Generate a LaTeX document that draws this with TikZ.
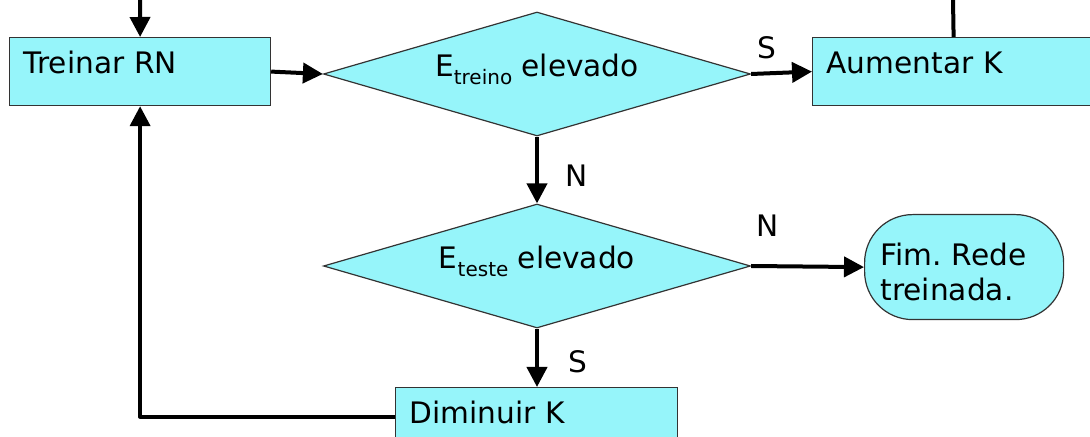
\documentclass[tikz,border=0pt]{standalone}
\usepackage{fontspec}
\setmainfont{DejaVu Sans}
\usetikzlibrary{arrows.meta,shapes.geometric}

\definecolor{boxcyan}{RGB}{150,245,250}
\newcommand{\sublow}[1]{\raisebox{-4pt}{\fontsize{10}{11}\selectfont #1}}
\frenchspacing

\begin{document}
\begin{tikzpicture}[%
        x = 0.5pt, y = -0.5pt,
        every node/.style = {font = \fontsize{14.8}{17.5}\selectfont},
        stepbox/.style = {draw = black!80, fill = boxcyan, line width = 0.6pt,
            rectangle, anchor = north west, inner xsep = 7pt, inner ysep = 0pt,
            text height = 18pt, text depth = 16pt, text width = 116.5pt, align = left},
        decision/.style = {diamond, draw = black!80, fill = boxcyan, line width = 0.6pt,
            aspect = 3.44, minimum width = 213.5pt, minimum height = 62pt,
            inner sep = 0pt, text height = 10pt, text depth = 7pt},
        endbox/.style = {draw = black!80, fill = boxcyan, line width = 0.6pt,
            rectangle, rounded corners = 24pt, anchor = north west,
            inner xsep = 8pt, inner ysep = 0pt, minimum height = 52.5pt,
            text width = 83.5pt, text height = 16pt, align = left},
        wire/.style = {line width = 2pt, line join = round},
        flow/.style = {wire, -{Triangle[length = 10pt, width = 10pt]}}
    ]

        % Size of the picture.
        \useasboundingbox (0, 0) rectangle (1090, 437);
        \clip (0, 0) rectangle (1090, 437);

        % Free ends at the top edge.
        \coordinate (TopIn) at (140, 0);
        \coordinate (TopOut) at (953, 0);

        % The boxes.
        \node[stepbox] (treinar) at (9, 37) {Treinar RN};
        \node[stepbox, text width = 127pt] (aumentar) at (812, 37) {Aumentar K};
        \node[stepbox, text width = 127pt, text depth = 11pt] (diminuir) at (395, 387) {Diminuir K};
        \node[endbox] (fim) at (864, 214) {Fim. Rede\\treinada.};

        % The two tests.
        \node[decision] (treino) at (537, 74) {E\sublow{treino} elevado};
        \node[decision] (teste) at (537, 266) {E\sublow{teste} elevado};

        % Connectors.
        \draw[flow] (TopIn) to (treinar.north);
        \draw[wire] (aumentar.north) to (TopOut);
        \draw[flow] (treinar.east) to (treino.west);
        \draw[flow] (treino.east) to (aumentar.west);
        \draw[flow] (treino.south) to (teste.north);
        \draw[flow] (teste.east) to (fim.west);
        \draw[flow] (teste.south) to (teste.south |- diminuir.north);
        \draw[flow] (diminuir.west) -| (treinar.south);

        % Label the branches.
        \node (S1) at (767, 48) {S};
        \node (N1) at (577, 176) {N};
        \node (N2) at (768, 226) {N};
        \node (S2) at (578, 362) {S};
    \end{tikzpicture}
\end{document}
